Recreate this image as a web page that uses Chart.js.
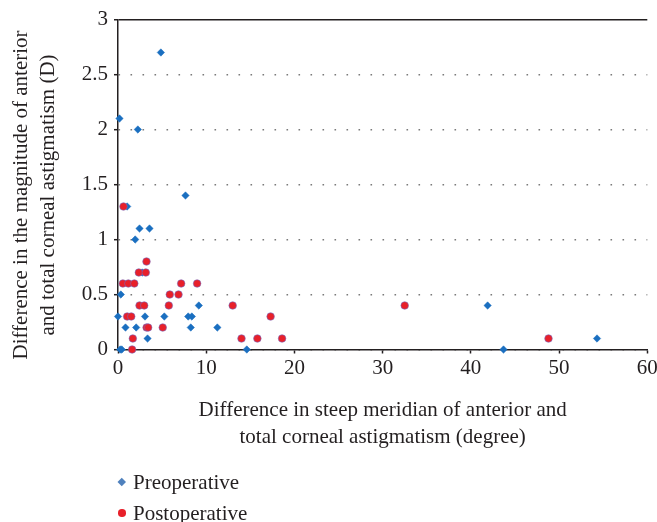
<!DOCTYPE html>
<html>
<head>
<meta charset="utf-8">
<script src="https://cdn.jsdelivr.net/npm/chart.js@4/dist/chart.umd.min.js"></script>
<style>
    body { margin: 0; background: #fff; width: 657px; height: 522px; overflow: hidden; font-family: "Liberation Serif", serif; color: #231f20; }
    #wrap { position: relative; width: 657px; height: 455px; }
    .legend { position: absolute; left: 0; top: 0; width: 657px; height: 522px; pointer-events: none; }
    .legend-item { position: absolute; left: 117px; height: 26px; line-height: 26px; font-size: 21px; white-space: nowrap; }
    .legend-item span { position: absolute; left: 16px; top: 0; }
    .marker { position: absolute; }
    .marker.diamond { background: #4f81bd; transform: rotate(45deg); width: 5.5px; height: 5.5px; left: 2px; top: 10px; }
    .marker.circle { background: #e8202a; border-radius: 50%; width: 7.5px; height: 7.5px; left: 1px; top: 9px; }
</style>
</head>
<body>
<div id="wrap"><canvas id="scatter_chart" width="657" height="455"></canvas></div>
<div class="legend">
    <div class="legend-item" style="top: 469px;"><i class="marker diamond"></i><span>Preoperative</span></div>
    <div class="legend-item" style="top: 500px;"><i class="marker circle"></i><span>Postoperative</span></div>
</div>
<script>
'use strict';
// values
const preX = [0.17, 2.25, 4.86, 7.65, 1.04, 2.44, 3.57, 1.95, 2.74, 0.32, 9.16, 0, 3.06, 5.25, 7.96, 8.37,
    0.85, 2.06, 8.25, 11.26, 3.35, 0.25, 0.43, 14.6, 41.9, 43.7, 54.3];
const preY = [2.1, 2.0, 2.7, 1.4, 1.3, 1.1, 1.1, 1.0, 0.7, 0.5, 0.4, 0.3, 0.3, 0.3, 0.3, 0.3,
    0.2, 0.2, 0.2, 0.2, 0.1, 0, 0, 0, 0.4, 0, 0.1];
const postX = [0.62, 3.23, 2.36, 3.15, 0.55, 1.17, 1.85, 7.16, 8.97, 5.87, 6.86, 2.44, 2.97, 5.76,
    1.04, 1.5, 3.24, 3.42, 5.07, 1.68, 1.6, 13.0, 14.0, 15.8, 17.3, 18.6, 32.5, 48.8];
const postY = [1.3, 0.8, 0.7, 0.7, 0.6, 0.6, 0.6, 0.6, 0.6, 0.5, 0.5, 0.4, 0.4, 0.4,
    0.3, 0.3, 0.2, 0.2, 0.2, 0.1, 0, 0.4, 0.1, 0.1, 0.3, 0.1, 0.4, 0.1];
const xTicks = [0, 10, 20, 30, 40, 50, 60];
const yTicks = [0, 0.5, 1, 1.5, 2, 2.5, 3];
const seriesNames = ['Preoperative', 'Postoperative'];
const xTitle = ['Difference in steep meridian of anterior and', 'total corneal astigmatism (degree)'];
const yTitle = ['Difference in the magnitude of anterior', 'and total corneal astigmatism (D)'];

const toPoints = (xs, ys) => xs.map((x, i) => ({x: x, y: ys[i]}));
const textColor = '#231f20';
const axisColor = '#231f20';
// the y title sits a little below the middle of the axis in the figure
const nudge = '\u00a0\u00a0\u00a0\u00a0';

let ctx = document.getElementById('scatter_chart').getContext('2d');

let myChart = new Chart(ctx, {
    type: 'scatter',
    data: {
        datasets: [
            {
                label: seriesNames[0],
                data: toPoints(preX, preY),
                pointStyle: 'rectRot',
                pointRadius: 3.7,
                backgroundColor: '#1a6fc0',
                borderColor: '#1a6fc0',
                borderWidth: 0.5,
                order: 1,
                clip: false,
            },
            {
                label: seriesNames[1],
                data: toPoints(postX, postY),
                pointStyle: 'circle',
                pointRadius: 3.8,
                backgroundColor: '#e8202a',
                borderColor: 'rgba(110, 110, 200, 0.55)',
                borderWidth: 1,
                order: 0,
                clip: false,
            }],
    },
    options: {
        responsive: false,
        animation: false,
        layout: {
            padding: {top: 19.5, right: 9.7, bottom: 0, left: 0},
        },
        plugins: {
            legend: {display: false},
            tooltip: {enabled: false},
        },
        scales: {
            x: {
                type: 'linear',
                min: 0,
                max: 60,
                afterBuildTicks: (scale) => {
                    scale.ticks = xTicks.map(v => ({value: v}));
                },
                afterFit: (scale) => {
                    scale.height = 105.5;
                    scale.paddingLeft = 0;
                    scale.paddingRight = 0;
                },
                border: {display: true, color: axisColor, width: 1.5},
                grid: {
                    drawOnChartArea: false,
                    drawTicks: true,
                    tickLength: 4,
                    tickColor: axisColor,
                    tickWidth: 1.5,
                },
                ticks: {
                    color: textColor,
                    padding: 2,
                    maxRotation: 0,
                    font: {family: 'Liberation Serif', size: 21},
                },
                title: {
                    display: true,
                    text: xTitle,
                    color: textColor,
                    padding: {top: 0, bottom: 4.3},
                    font: {family: 'Liberation Serif', size: 21, lineHeight: 1.27},
                },
            },
            y: {
                type: 'linear',
                min: 0,
                max: 3,
                afterBuildTicks: (scale) => {
                    scale.ticks = yTicks.map(v => ({value: v}));
                },
                afterFit: (scale) => {
                    scale.width = 118;
                },
                border: {
                    display: true,
                    color: axisColor,
                    width: 1.5,
                    dash: (c) => (c.tick && c.tick.value === 3) ? [] : [1.6, 10.4],
                },
                grid: {
                    drawOnChartArea: true,
                    color: (c) => (c.tick && c.tick.value === 3) ? axisColor : '#7a7a7a',
                    lineWidth: (c) => (c.tick && c.tick.value === 3) ? 1.5 : 1.4,
                    drawTicks: true,
                    tickLength: 4,
                    tickColor: axisColor,
                    tickWidth: 1.5,
                    tickBorderDash: [],
                },
                ticks: {
                    color: textColor,
                    padding: 6,
                    callback: (v) => String(v),
                    font: {family: 'Liberation Serif', size: 21},
                },
                title: {
                    display: true,
                    text: yTitle.map(t => t + nudge),
                    color: textColor,
                    padding: {top: 8.6, bottom: 0},
                    font: {family: 'Liberation Serif', size: 21, lineHeight: 1.27},
                },
            },
        },
    },
});
</script>
</body>
</html>
